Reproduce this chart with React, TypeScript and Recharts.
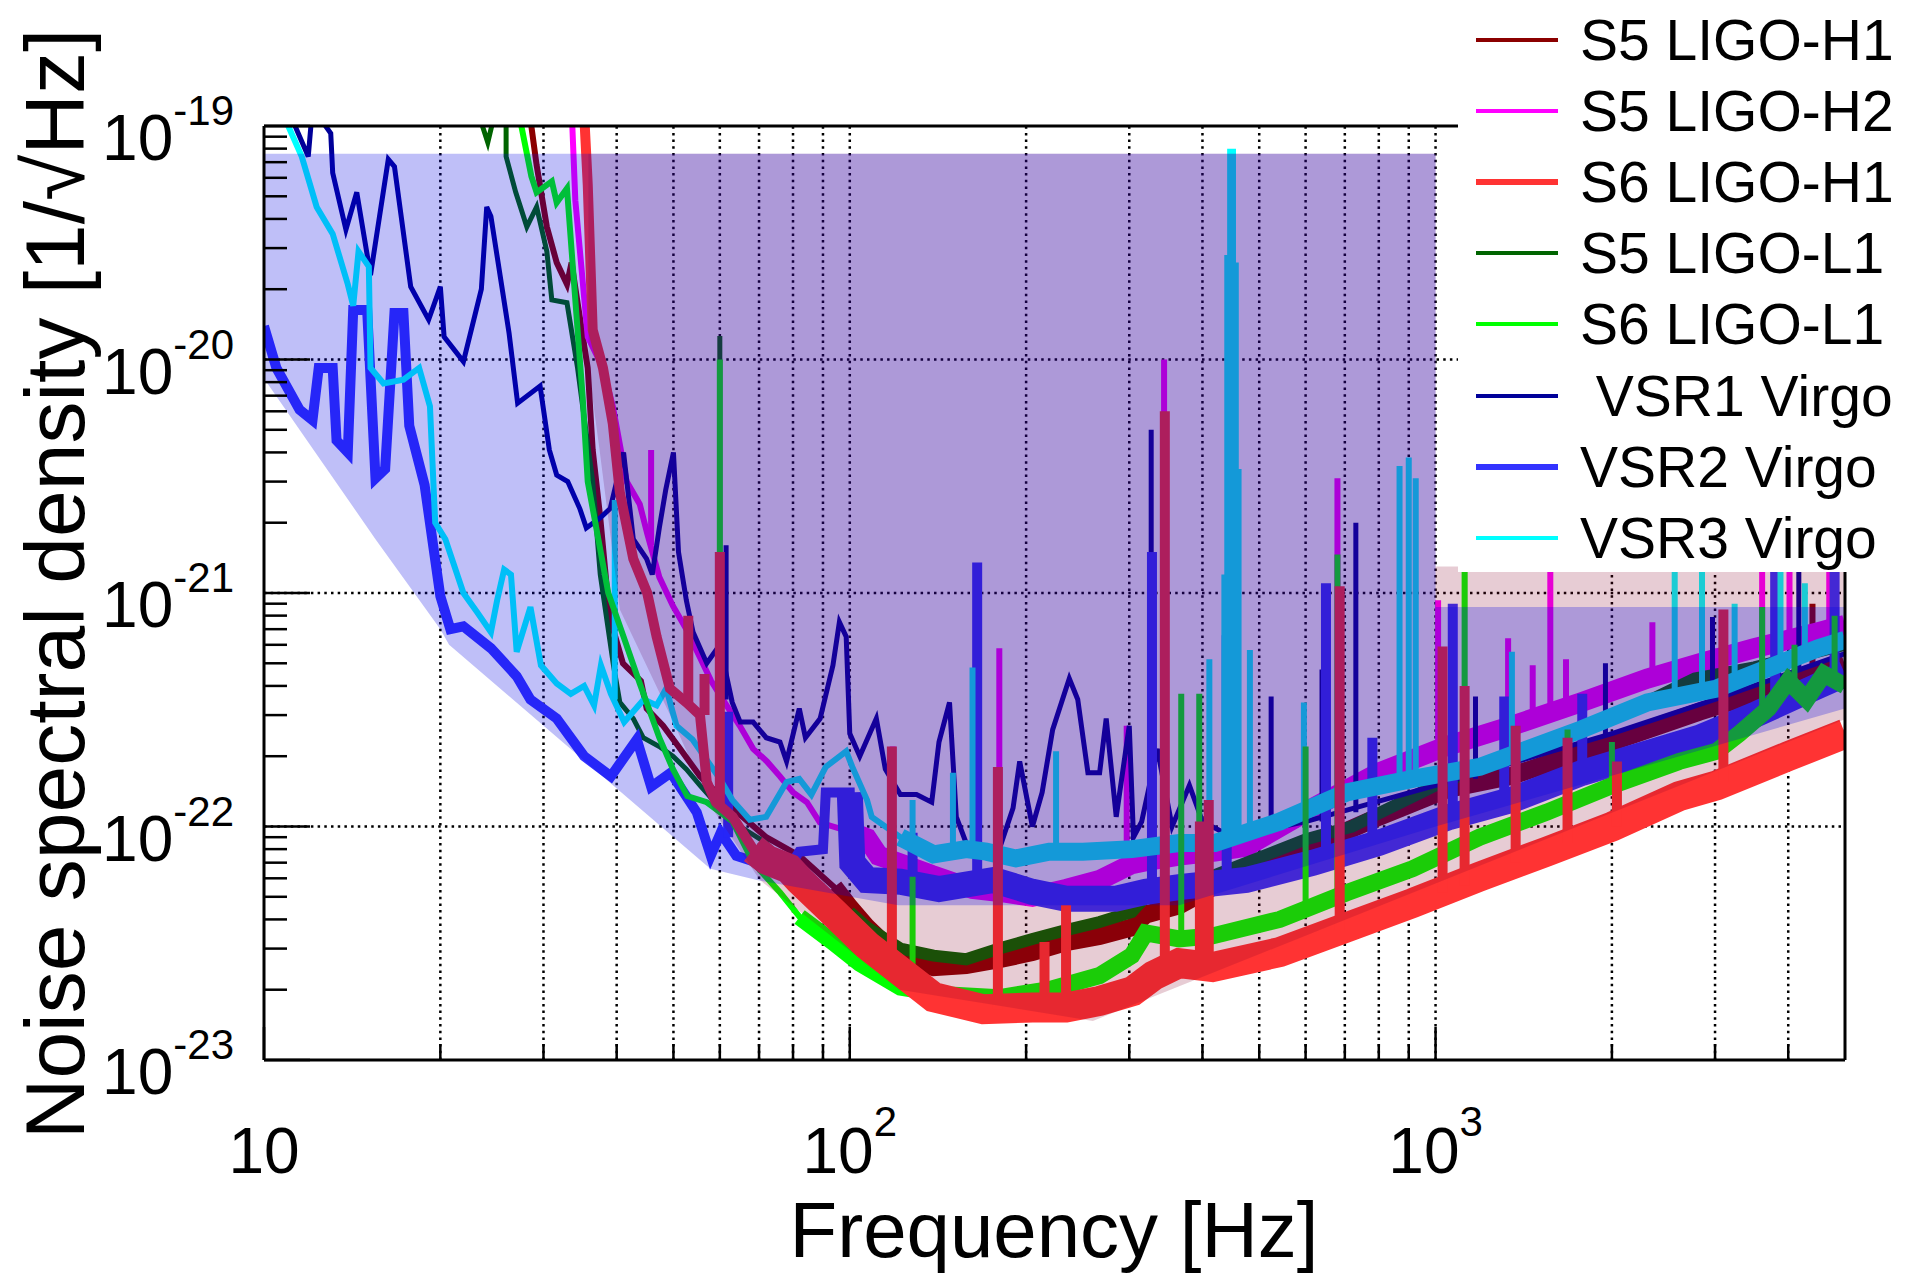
import React from 'react';
import { ComposedChart, Line, Area, XAxis, YAxis, ReferenceLine, Legend } from 'recharts';

type Pt = [number, number];
type Spike = [number, number, number];
type Band = [number, number, number];

const FONT = '"Liberation Sans", Arial, Helvetica, sans-serif';

// ---------- axes ----------
const X_DOMAIN: [number, number] = [10, 5000];
const Y_DOMAIN: [number, number] = [1e-23, 1e-19];
const X_MAJOR = [10, 100, 1000];
const X_EXP = ['', '2', '3'];
const X_MINOR = [20, 30, 40, 50, 60, 70, 80, 90, 200, 300, 400, 500, 600, 700, 800, 900, 2000, 3000, 4000];
const X_GRID = [20, 30, 40, 50, 60, 70, 80, 90, 100, 200, 300, 400, 500, 600, 700, 800, 900, 1000, 2000, 3000, 4000];
const Y_MAJOR = [1e-23, 1e-22, 1e-21, 1e-20, 1e-19];
const Y_EXP = ['-23', '-22', '-21', '-20', '-19'];
const Y_MINOR = [
  2e-23, 3e-23, 4e-23, 5e-23, 6e-23, 7e-23, 8e-23, 9e-23,
  2e-22, 3e-22, 4e-22, 5e-22, 6e-22, 7e-22, 8e-22, 9e-22,
  2e-21, 3e-21, 4e-21, 5e-21, 6e-21, 7e-21, 8e-21, 9e-21,
  2e-20, 3e-20, 4e-20, 5e-20, 6e-20, 7e-20, 8e-20, 9e-20,
];
const Y_GRID = [1e-22, 1e-21, 1e-20];

// ---------- shaded regions [f, low, high] ----------
const LIGO_REGION: Band[] = [
  [35.8, 9.2e-21, 7.6e-20], [37.4, 4.1e-21, 7.6e-20], [40.5, 8.5e-22, 7.6e-20], [50, 2.8e-22, 7.6e-20],
  [58.3, 1.19e-22, 7.6e-20], [70.2, 5.9e-23, 7.6e-20], [121.6, 2.0e-23, 7.6e-20], [260, 1.47e-23, 7.6e-20],
  [1000, 5.7e-23, 7.6e-20], [1000, 5.7e-23, 1.3e-21], [5000, 2.88e-22, 1.3e-21],
];
const VIRGO_REGION: Band[] = [
  [10, 8.3e-21, 7.6e-20], [15.5, 1.7e-21, 7.6e-20], [20, 7.0e-22, 7.6e-20], [20.7, 6.0e-22, 7.6e-20],
  [57.8, 6.6e-23, 7.6e-20], [69.4, 5.9e-23, 7.6e-20], [121, 4.6e-23, 7.6e-20], [365, 4.6e-23, 7.6e-20],
  [1000, 1.0e-22, 7.6e-20], [1000, 1.0e-22, 8.7e-22], [5000, 3.2e-22, 8.7e-22],
];

// ---------- spectra [f, v] and lines [f, base, peak] ----------
const S5_H1: Pt[] = [
  [27.5, 2e-19], [28.6, 1e-19], [29.2, 6.8e-20], [30.4, 3.7e-20], [31.6, 2.6e-20], [32.9, 2.1e-20], [33.5, 2.6e-20],
  [34.3, 1.75e-20], [35.7, 9.2e-21], [36.4, 4.1e-21], [37.5, 2.1e-21], [38.9, 7.9e-22], [41, 5e-22], [44, 4.2e-22],
  [45, 3.2e-22], [48, 2.7e-22], [51, 2.2e-22], [55.5, 1.64e-22], [63, 1.2e-22], [72, 9e-23], [82, 7.5e-23],
  [94, 5.5e-23], [100, 4.5e-23], [107, 3.7e-23], [122, 2.7e-23], [139, 2.5e-23], [158, 2.55e-23], [180, 2.7e-23],
  [205, 2.9e-23], [234, 3.2e-23], [267, 3.4e-23], [303, 3.7e-23], [320, 4.2e-23], [365, 4.6e-23], [416, 5.5e-23],
  [600, 8e-23], [800, 1.1e-22], [1050, 1.45e-22], [1350, 1.65e-22], [2000, 2.3e-22], [2820, 3.1e-22],
  [4000, 4.1e-22], [5000, 4.9e-22],
];
const S5_H1_LINES: Spike[] = [[60, 1.3e-22, 3e-22], [345, 4.4e-23, 3e-21], [4400, 4.5e-22, 9e-22]];

const S5_H2: Pt[] = [
  [33.0, 3e-19], [33.6, 1e-19], [34.0, 4.8e-20], [35.7, 1.25e-20], [37.9, 9.2e-21], [39.4, 6.3e-21], [41.6, 3.0e-21],
  [43.8, 2.4e-21], [45.1, 1.8e-21], [47.3, 1.17e-21], [49.9, 8.8e-22], [52.6, 7.0e-22], [55.5, 5.3e-22], [58, 4.2e-22],
  [61.6, 3.3e-22], [64.9, 2.7e-22], [68.4, 2.15e-22], [72.2, 1.9e-22], [76, 1.64e-22], [80, 1.4e-22], [84.5, 1.27e-22],
  [88.9, 1.04e-22], [100, 9.5e-23], [107, 8.9e-23], [112, 7.5e-23], [125, 6.8e-23], [138, 6.2e-23], [162, 5.4e-23],
  [185, 5.2e-23], [205, 5.0e-23], [234, 5.4e-23], [267, 5.9e-23], [303, 6.9e-23], [330, 7.2e-23], [365, 7.5e-23],
  [420, 7.8e-23], [475, 8.2e-23], [617, 1.2e-22], [800, 1.7e-22], [1040, 2.2e-22], [1350, 2.7e-22], [1770, 3.4e-22],
  [2300, 4.3e-22], [2820, 5.0e-22], [3500, 5.8e-22], [4500, 6.8e-22], [5000, 7.3e-22],
];
const S5_H2_LINES: Spike[] = [
  [45.8, 1.6e-21, 4.1e-21], [118.4, 7.3e-23, 2.2e-22], [180, 5.2e-23, 5.8e-22], [297, 6.8e-23, 2.7e-22],
  [344, 7.2e-23, 1e-20], [680, 1.35e-22, 3.1e-21], [1010, 2.1e-22, 9.3e-22], [1330, 2.7e-22, 6.4e-22],
  [1465, 2.9e-22, 4.9e-22], [1570, 3.1e-22, 1.4e-21], [1670, 3.3e-22, 5.2e-22], [2345, 4.4e-22, 7.5e-22],
  [3610, 5.9e-22, 1.4e-21], [4020, 6.3e-22, 1.4e-21], [4700, 7e-22, 1.4e-21],
];

const S6_H1: Pt[] = [
  [34.0, 3e-19], [35.0, 1.5e-19], [35.7, 5.6e-20], [36.4, 1.34e-20], [37.9, 9.2e-21], [39.4, 5.3e-21], [40.5, 2.7e-21],
  [42.7, 1.4e-21], [45.1, 1.0e-21], [46.8, 6.5e-22], [49.3, 3.9e-22], [52.6, 3.4e-22], [55.5, 3.0e-22], [57.0, 1.55e-22],
  [59.1, 1.27e-22], [63.1, 1.1e-22], [68.4, 8.0e-23], [72.2, 7.2e-23], [78.7, 6.6e-23], [82.0, 5.9e-23], [93.6, 4.3e-23],
  [107, 3.1e-23], [122, 2.4e-23], [139, 1.86e-23], [169, 1.65e-23], [205, 1.68e-23], [234, 1.68e-23], [267, 1.79e-23],
  [304, 1.97e-23], [330, 2.3e-23], [365, 2.6e-23], [416, 2.5e-23], [542, 2.9e-23], [705, 3.7e-23], [914, 4.7e-23],
  [1189, 6.1e-23], [1546, 7.8e-23], [2004, 1.0e-22], [2607, 1.35e-22], [3020, 1.5e-22], [4000, 2.0e-22], [5000, 2.5e-22],
];
const S6_H1_LINES: Spike[] = [
  [53, 3.4e-22, 8e-22], [56.5, 3.0e-22, 4.5e-22], [60, 1.2e-22, 1.5e-21], [118, 2.6e-23, 2.2e-22], [179, 1.65e-23, 1.8e-22],
  [215, 1.68e-23, 3.2e-23], [234, 1.68e-23, 4.6e-23], [345, 2.4e-23, 6e-21], [396, 2.6e-23, 1.05e-22], [410, 2.5e-23, 1.3e-22],
  [686, 3.6e-23, 1.07e-21], [1028, 5.2e-23, 5.9e-22], [1121, 5.6e-23, 4e-22], [1370, 7e-23, 2.7e-22], [1680, 8.5e-23, 2.4e-22],
  [2040, 1.0e-22, 1.9e-22], [3100, 1.55e-22, 8.5e-22],
];

const S5_L1: Pt[] = [
  [23.0, 2e-19], [23.6, 1e-19], [24.1, 8.5e-20], [24.7, 1.1e-19], [25.9, 1.1e-19], [25.9, 7.4e-20], [26.9, 5.2e-20],
  [28.1, 3.7e-20], [29.2, 4.5e-20], [30.4, 2.9e-20], [31.0, 1.8e-20], [32.9, 1.75e-20], [34.3, 9.2e-21], [36.4, 3.0e-21],
  [37.5, 1.2e-21], [39.5, 4.9e-22], [40.5, 3.4e-22], [42.7, 2.9e-22], [44.4, 2.4e-22], [47.3, 2.2e-22], [49.9, 2.0e-22],
  [52.6, 1.76e-22], [55.5, 1.5e-22], [63, 1.05e-22], [72, 8.5e-23], [80, 6.5e-23], [100, 4.3e-23], [107, 3.7e-23],
  [122, 3.0e-23], [139, 2.8e-23], [158, 2.7e-23], [180, 3.0e-23], [205, 3.3e-23], [234, 3.6e-23], [267, 3.9e-23],
  [303, 4.3e-23], [320, 5.0e-23], [365, 5.5e-23], [420, 6.2e-23], [600, 8.8e-23], [720, 1.0e-22], [1000, 1.5e-22],
  [1170, 1.75e-22], [2000, 2.9e-22], [2770, 4.3e-22], [3500, 4.8e-22], [5000, 6.0e-22],
];
const S5_L1_LINES: Spike[] = [[60, 1.3e-22, 1.26e-20], [1121, 1.7e-22, 1.4e-21]];

const S6_L1: Pt[] = [
  [26.5, 2e-19], [27.5, 1e-19], [28.6, 6.1e-20], [29.2, 5.2e-20], [31.0, 5.8e-20], [31.6, 4.7e-20], [32.9, 5.4e-20],
  [34.3, 1.34e-20], [35.0, 6.9e-21], [35.7, 3.0e-21], [38.7, 1.0e-21], [41.1, 6.5e-22], [43.8, 4.1e-22], [47.3, 2.4e-22],
  [49.9, 1.76e-22], [52.8, 1.35e-22], [57, 1.27e-22], [63.1, 1.05e-22], [68.4, 7.0e-23], [76.1, 5.2e-23], [82.1, 4.1e-23],
  [93.6, 3.2e-23], [104, 2.6e-23], [122, 2.05e-23], [148, 1.9e-23], [180, 1.85e-23], [219, 2.0e-23], [267, 2.3e-23],
  [303, 2.8e-23], [320, 3.5e-23], [365, 3.3e-23], [416, 3.4e-23], [542, 4.0e-23], [705, 5.2e-23], [914, 6.6e-23],
  [1189, 9.0e-23], [1546, 1.15e-22], [2004, 1.5e-22], [2607, 1.9e-22], [3020, 2.1e-22], [3300, 2.5e-22], [3700, 3.2e-22],
  [4000, 4.2e-22], [4300, 3.5e-22], [4600, 4.5e-22], [5000, 4.0e-22],
];
const S6_L1_LINES: Spike[] = [
  [60, 1.2e-22, 1e-20], [128, 2.0e-23, 6.1e-23], [343, 3.3e-23, 4.4e-21], [368, 3.3e-23, 3.7e-22], [395, 3.3e-23, 3.7e-22],
  [600, 4.5e-23, 2.2e-22], [680, 5.0e-23, 1.46e-21], [1121, 8.5e-23, 1.4e-21], [1680, 1.25e-22, 2.6e-22],
  [2000, 1.5e-22, 2.3e-22], [3610, 3e-22, 8.7e-22], [4100, 4e-22, 6e-22], [4800, 4.2e-22, 8e-22],
];

const VSR1: Pt[] = [
  [11.0, 2e-19], [11.3, 1e-19], [11.9, 7.4e-20], [12.1, 1.2e-19], [13.0, 9.3e-20], [13.1, 6.3e-20], [13.8, 3.6e-20],
  [14.4, 5.2e-20], [15.2, 2.3e-20], [16.3, 7.2e-20], [16.7, 6.7e-20], [17.8, 2.05e-20], [19.1, 1.48e-20], [20, 2.05e-20],
  [20.3, 1.25e-20], [21.9, 9.8e-21], [23.5, 2e-20], [24.0, 4.5e-20], [24.4, 4.1e-20], [26.2, 1.3e-20], [27.1, 6.5e-21],
  [29.6, 7.7e-21], [30.7, 4.1e-21], [31.6, 3.2e-21], [33, 3e-21], [34.6, 2.3e-21], [35.5, 1.9e-21], [37.5, 2.1e-21],
  [39, 2.3e-21], [41.1, 4e-21], [42.7, 1.7e-21], [45, 1.4e-21], [46, 1.2e-21], [47.3, 1.9e-21], [48.5, 2.76e-21],
  [50, 4e-21], [51, 1.5e-21], [52.6, 9.3e-22], [54, 6.8e-22], [57, 5e-22], [60, 6e-22], [63, 3.4e-22], [65, 2.8e-22],
  [68.4, 2.8e-22], [72, 2.4e-22], [76, 2.3e-22], [78, 1.9e-22], [82, 3.2e-22], [84, 2.4e-22], [89, 2.9e-22],
  [93.6, 4.9e-22], [96, 7.5e-22], [98.6, 6.5e-22], [100, 2.5e-22], [104, 2e-22], [111, 2.9e-22], [115, 1.76e-22],
  [122, 1.37e-22], [130, 1.37e-22], [138, 1.27e-22], [142, 2.3e-22], [148, 3.4e-22], [152, 1.1e-22], [158, 8.5e-23],
  [180, 8e-23], [190, 1.2e-22], [195, 1.9e-22], [205, 1e-22], [213, 1.4e-22], [222, 2.6e-22], [237, 4.3e-22],
  [245, 3.5e-22], [255, 1.7e-22], [267, 1.7e-22], [274, 2.9e-22], [285, 1.1e-22], [300, 2.7e-22], [305, 9e-23],
  [315, 1.05e-22], [335, 2.15e-22], [355, 1e-22], [380, 1.5e-22], [400, 1.05e-22], [450, 9e-23], [600, 1.05e-22],
  [1000, 1.5e-22], [2000, 2.5e-22], [3000, 3.5e-22], [5000, 5.5e-22],
];
const VSR1_LINES: Spike[] = [
  [61.5, 3.5e-22, 1.6e-21], [327, 1.05e-22, 5e-21], [524, 1.0e-22, 3.6e-22], [640, 1.05e-22, 4.7e-22],
  [731, 1.15e-22, 2e-21], [1170, 1.6e-22, 3.6e-22], [1950, 2.45e-22, 5e-22], [2970, 3.5e-22, 7.9e-22],
  [3850, 4.3e-22, 1.4e-21], [4170, 4.6e-22, 1.4e-21],
];

const VSR2: Pt[] = [
  [10, 1.39e-20], [10.5, 9.2e-21], [11.5, 6.1e-21], [12.1, 5.5e-21], [12.4, 9.2e-21], [13.1, 9.2e-21], [13.3, 4.5e-21],
  [13.9, 4.0e-21], [14.2, 1.63e-20], [15.0, 1.63e-20], [15.5, 3.1e-21], [16.1, 3.4e-21], [16.7, 1.58e-20], [17.3, 1.58e-20],
  [17.7, 5.2e-21], [18.8, 2.9e-21], [20, 9.7e-22], [20.8, 7.0e-22], [21.9, 7.2e-22], [24.4, 5.8e-22], [27.0, 4.4e-22],
  [28.5, 3.5e-22], [31.6, 2.9e-22], [35.2, 2.0e-22], [39.1, 1.64e-22], [43.3, 2.36e-22], [45.8, 1.48e-22], [49.5, 1.7e-22],
  [54.8, 1.15e-22], [57.9, 7.5e-23], [60.2, 9.4e-23], [64, 7.5e-23], [68.4, 7.1e-23], [80, 7.1e-23], [82, 7.8e-23],
  [90, 8e-23], [91, 1.4e-22], [100, 1.4e-22], [101, 7e-23], [107, 5.9e-23], [122, 5.8e-23], [142, 5.4e-23], [176, 5.9e-23],
  [205, 5.25e-23], [234, 4.9e-23], [284, 4.9e-23], [320, 5.25e-23], [365, 5.5e-23], [475, 5.9e-23], [618, 7e-23],
  [800, 8.5e-23], [1057, 1.1e-22], [1350, 1.3e-22], [1782, 1.7e-22], [2820, 2.4e-22], [3500, 3.0e-22], [4500, 4.0e-22],
  [5000, 4.5e-22],
];
const VSR2_LINES: Spike[] = [
  [62, 9e-23, 3.1e-22], [128, 5.8e-23, 9.4e-23], [165, 5.6e-23, 1.35e-21], [328, 5.3e-23, 1.5e-21], [440, 5.8e-23, 6.6e-22],
  [650, 7.2e-23, 1.1e-21], [780, 8.3e-23, 2.4e-22], [1070, 1.1e-22, 9e-22], [1310, 1.28e-22, 3.6e-22],
  [1780, 1.7e-22, 3.7e-22], [3800, 3.3e-22, 1.4e-21], [4800, 4.3e-22, 1.4e-21],
];

const VSR3: Pt[] = [
  [10.7, 1.3e-19], [11.0, 1e-19], [11.6, 7.4e-20], [12.3, 4.5e-20], [13.1, 3.45e-20], [13.9, 2.1e-20], [14.2, 1.7e-20],
  [14.5, 2.9e-20], [15.1, 2.5e-20], [15.2, 9.2e-21], [16.0, 7.9e-21], [17.3, 8.2e-21], [18.4, 9.2e-21], [19.2, 6.3e-21],
  [19.6, 2.0e-21], [20.4, 1.7e-21], [21.9, 1.0e-21], [23.1, 8.3e-22], [24.4, 6.8e-22], [25.0, 9.3e-22], [25.7, 1.26e-21],
  [26.4, 1.2e-21], [27.0, 5.6e-22], [28.5, 8.7e-22], [29.7, 4.9e-22], [31.6, 4.1e-22], [33.4, 3.7e-22], [35.2, 4.0e-22],
  [36.6, 3.3e-22], [37.6, 4.9e-22], [39.1, 3.7e-22], [41.2, 2.8e-22], [44.5, 3.5e-22], [46.8, 3.3e-22], [48.6, 3.9e-22],
  [50.6, 2.7e-22], [53.9, 2.36e-22], [60, 1.6e-22], [63, 1.3e-22], [67.5, 1.07e-22], [72, 1.1e-22], [78, 1.55e-22],
  [82, 1.6e-22], [86, 1.37e-22], [91, 1.8e-22], [98.6, 2.1e-22], [101, 1.8e-22], [107, 1.3e-22], [109, 1.1e-22],
  [122, 9e-23], [139, 7.6e-23], [158, 8e-23], [171, 7.8e-23], [192, 7.3e-23], [219, 7.8e-23], [250, 7.8e-23],
  [303, 8e-23], [365, 8.5e-23], [420, 8.5e-23], [542, 1.05e-22], [705, 1.4e-22], [914, 1.6e-22], [1190, 1.8e-22],
  [1770, 2.6e-22], [2300, 3.4e-22], [3020, 3.9e-22], [4500, 5.8e-22], [5000, 6.3e-22],
];
const VSR3_LINES: Spike[] = [
  [39.7, 3.5e-22, 2.5e-21], [128, 8.5e-23, 1.3e-22], [150, 7.6e-23, 1.7e-22], [162, 8e-23, 4.8e-22], [225, 7.8e-23, 2.1e-22],
  [411, 8.5e-23, 5.2e-22], [436, 8.6e-23, 1.2e-21], [441, 8.6e-23, 2.8e-20], [446, 8.7e-23, 8e-20], [451, 8.8e-23, 8e-20],
  [456, 8.9e-23, 2.6e-20], [461, 8.9e-23, 3.4e-21], [482, 9.3e-23, 5.7e-22], [596, 1.15e-22, 3.4e-22],
  [868, 1.55e-22, 3.5e-21], [900, 1.58e-22, 3.8e-21], [925, 1.6e-22, 3.1e-21], [1350, 2.0e-22, 5.6e-22],
  [2560, 3.6e-22, 1.4e-21], [2850, 3.8e-22, 1.4e-21], [3240, 4.3e-22, 9e-22], [3880, 4.9e-22, 1.4e-21],
  [4270, 5.5e-22, 1.1e-21],
];

// ---------- series styling (drawing order) ----------
const SERIES = [
  { key: 's5h1', color: '#8b0000', base: S5_H1, lines: S5_H1_LINES, thin: 6, thick: 18, from: 90 },
  { key: 's5h2', color: '#ff00ff', base: S5_H2, lines: S5_H2_LINES, thin: 6, thick: 20, from: 100 },
  { key: 's5l1', color: '#006400', base: S5_L1, lines: S5_L1_LINES, thin: 5, thick: 12, from: 90 },
  { key: 'vsr1', color: '#000099', base: VSR1, lines: VSR1_LINES, thin: 5, thick: 0, from: 0 },
  { key: 'vsr2', color: '#3333ff', base: VSR2, lines: VSR2_LINES, thin: 10, thick: 26, from: 100 },
  { key: 'vsr3', color: '#00ffff', base: VSR3, lines: VSR3_LINES, thin: 6, thick: 18, from: 120 },
  { key: 's6l1', color: '#00ff00', base: S6_L1, lines: S6_L1_LINES, thin: 6, thick: 17, from: 80 },
  { key: 's6h1', color: '#ff3333', base: S6_H1, lines: S6_H1_LINES, thin: 10, thick: 30, from: 65 },
];

const LEGEND_ITEMS = [
  { name: 'S5 LIGO-H1', color: '#8b0000', w: 4 },
  { name: 'S5 LIGO-H2', color: '#ff00ff', w: 4 },
  { name: 'S6 LIGO-H1', color: '#ff3333', w: 6 },
  { name: 'S5 LIGO-L1', color: '#006400', w: 4 },
  { name: 'S6 LIGO-L1', color: '#00ff00', w: 4 },
  { name: ' VSR1 Virgo', color: '#000099', w: 4 },
  { name: 'VSR2 Virgo', color: '#3333ff', w: 6 },
  { name: 'VSR3 Virgo', color: '#00ffff', w: 4 },
];

// ---------- layout ----------
const W = 1916;
const H = 1274;
const PLOT_LEFT = 264;
const PLOT_TOP = 126;
const PLOT_RIGHT = 1845;
const PLOT_BOTTOM = 1060;

const toPts = (a: Pt[]) => a.map(([f, v]) => ({ f, v }));
const toSpikes = (a: Spike[]) =>
  a.flatMap(([f, b, p]) => [{ f, v: b }, { f, v: p }, { f, v: null as number | null }]);
const toBand = (a: Band[]) => a.map(([f, lo, hi]) => ({ f, range: [lo, hi] }));

function YTick(props: any) {
  const { y, payload } = props;
  const v = payload.value;
  const idx = Y_MAJOR.findIndex((m) => Math.abs(m - v) / m < 1e-6);
  const major = idx >= 0;
  return (
    <g>
      <line x1={PLOT_LEFT} x2={PLOT_LEFT + (major ? 46 : 23)} y1={y} y2={y} stroke="#000" strokeWidth={2.5} />
      {major && (
        <text x={234} y={y + 34} textAnchor="end" fontFamily={FONT} fill="#000">
          <tspan fontSize={64}>10</tspan>
          <tspan fontSize={42} dy={-35}>{Y_EXP[idx]}</tspan>
        </text>
      )}
    </g>
  );
}

function XTick(props: any) {
  const { x, payload } = props;
  const v = payload.value;
  const idx = X_MAJOR.indexOf(v);
  const major = idx >= 0;
  return (
    <g>
      <line x1={x} x2={x} y1={PLOT_BOTTOM} y2={PLOT_BOTTOM - (major ? 33 : 16)} stroke="#000" strokeWidth={2.5} />
      {major && (
        <text x={x} y={1173} textAnchor="middle" fontFamily={FONT} fill="#000">
          <tspan fontSize={64}>10</tspan>
          {X_EXP[idx] && <tspan fontSize={42} dy={-37}>{X_EXP[idx]}</tspan>}
        </text>
      )}
    </g>
  );
}

function YTitle() {
  return (
    <text
      transform={`translate(84, 584) rotate(-90)`}
      textAnchor="middle"
      fontFamily={FONT}
      fontSize={84}
      fill="#000"
    >
      Noise spectral density [1/√Hz]
    </text>
  );
}

function XTitle() {
  return (
    <text x={1054} y={1257} textAnchor="middle" fontFamily={FONT} fontSize={78} fill="#000">
      Frequency [Hz]
    </text>
  );
}

function LegendBox() {
  return (
    <div style={{ width: 458, height: 572, background: '#fff', position: 'relative', fontFamily: FONT }}>
      {LEGEND_ITEMS.map((it, i) => (
        <div
          key={it.name}
          style={{ position: 'absolute', left: 0, top: 40 + i * 71.1 - 35, height: 70, width: 458 }}
        >
          <div
            style={{
              position: 'absolute',
              left: 18,
              top: 35 - it.w / 2,
              width: 82,
              height: it.w,
              background: it.color,
            }}
          />
          <div
            style={{
              position: 'absolute',
              left: 122,
              top: 0,
              height: 70,
              lineHeight: '70px',
              fontSize: 57,
              color: '#000',
              whiteSpace: 'pre',
            }}
          >
            {it.name}
          </div>
        </div>
      ))}
    </div>
  );
}

export default function App() {
  const xTicks = [...X_MAJOR, ...X_MINOR].sort((a, b) => a - b);
  const yTicks = [...Y_MAJOR, ...Y_MINOR].sort((a, b) => a - b);
  return (
    <div style={{ position: 'absolute', left: 0, top: 0, width: W, height: H, background: '#fff' }}>
      <ComposedChart
        width={W}
        height={H}
        margin={{ top: PLOT_TOP, right: W - PLOT_RIGHT, bottom: 0, left: 0 }}
      >
        <XAxis
          type="number"
          dataKey="f"
          scale="log"
          domain={X_DOMAIN}
          allowDataOverflow
          ticks={xTicks}
          interval={0}
          tick={(p: any) => <XTick {...p} />}
          tickLine={false}
          axisLine={{ stroke: '#000', strokeWidth: 3 }}
          height={H - PLOT_BOTTOM}
          label={<XTitle />}
        />
        <YAxis
          type="number"
          scale="log"
          domain={Y_DOMAIN}
          allowDataOverflow
          ticks={yTicks}
          interval={0}
          tick={(p: any) => <YTick {...p} />}
          tickLine={false}
          axisLine={{ stroke: '#000', strokeWidth: 3 }}
          width={PLOT_LEFT}
          label={<YTitle />}
        />
        {X_GRID.map((v) => (
          <ReferenceLine
            key={'gx' + v}
            x={v}
            stroke="#000"
            strokeWidth={2.5}
            strokeDasharray="2.5 4.2"
            ifOverflow="visible"
            zIndex={-100}
          />
        ))}
        {Y_GRID.map((v) => (
          <ReferenceLine
            key={'gy' + v}
            y={v}
            stroke="#000"
            strokeWidth={2.5}
            strokeDasharray="2.5 4.2"
            ifOverflow="visible"
            zIndex={-100}
          />
        ))}
        {SERIES.flatMap((s) => {
          const pts = toPts(s.base);
          const els = [
            <Line
              key={s.key + '-base'}
              data={pts}
              dataKey="v"
              stroke={s.color}
              strokeWidth={s.thin}
              dot={false}
              activeDot={false}
              legendType="none"
              isAnimationActive={false}
            />,
          ];
          if (s.thick > 0) {
            els.push(
              <Line
                key={s.key + '-band'}
                data={pts.filter((p) => p.f >= s.from)}
                dataKey="v"
                stroke={s.color}
                strokeWidth={s.thick}
                dot={false}
                activeDot={false}
                legendType="none"
                isAnimationActive={false}
              />
            );
          }
          els.push(
            <Line
              key={s.key + '-lines'}
              data={toSpikes(s.lines)}
              dataKey="v"
              stroke={s.color}
              strokeWidth={s.thin}
              dot={false}
              activeDot={false}
              connectNulls={false}
              legendType="none"
              isAnimationActive={false}
            />
          );
          return els;
        })}
        <Area
          data={toBand(LIGO_REGION)}
          dataKey="range"
          type="linear"
          stroke="none"
          strokeWidth={0}
          fill="rgb(136,0,40)"
          fillOpacity={0.2}
          dot={false}
          activeDot={false}
          legendType="none"
          isAnimationActive={false}
          zIndex={450}
        />
        <Area
          data={toBand(VIRGO_REGION)}
          dataKey="range"
          type="linear"
          stroke="none"
          strokeWidth={0}
          fill="rgb(0,0,226)"
          fillOpacity={0.25}
          dot={false}
          activeDot={false}
          legendType="none"
          isAnimationActive={false}
          zIndex={460}
        />
        <ReferenceLine y={1e-19} stroke="#000" strokeWidth={3} ifOverflow="visible" zIndex={600} />
        <ReferenceLine x={5000} stroke="#000" strokeWidth={3} ifOverflow="visible" zIndex={600} />
        <Legend
          layout="vertical"
          align="center"
          verticalAlign="middle"
          content={() => <LegendBox />}
          wrapperStyle={{ left: W - 458, top: 0, width: 458, height: 572 }}
        />
      </ComposedChart>
    </div>
  );
}
